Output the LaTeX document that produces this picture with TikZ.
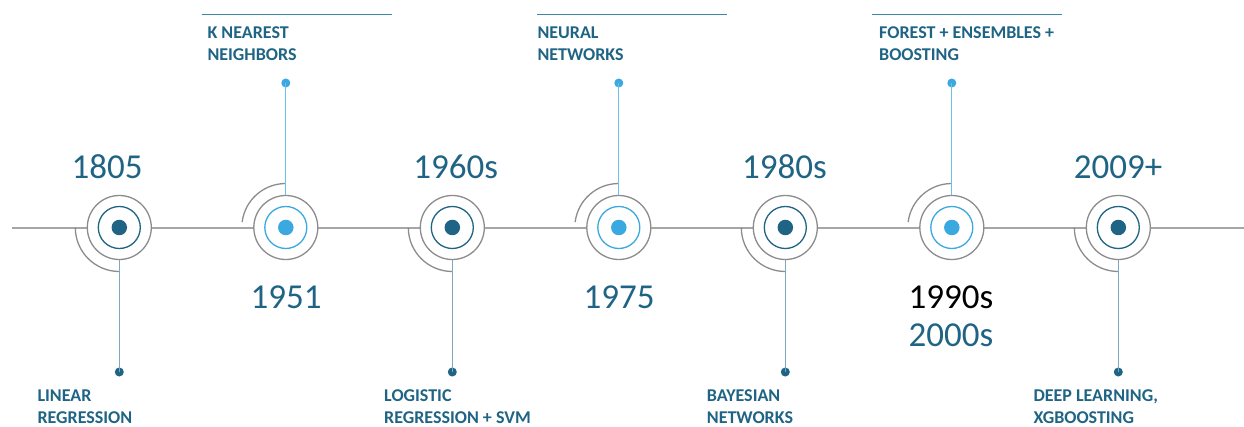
\documentclass[tikz,border=0pt]{standalone}
\usepackage{fontspec}
\setmainfont{Carlito}
\definecolor{tlDark}{HTML}{1F6484}
\definecolor{tlLight}{HTML}{3BA9DF}
\definecolor{tlLink}{HTML}{7FA8C0}
\definecolor{tlLinkLight}{HTML}{6CC0EA}
\definecolor{tlRing}{HTML}{8C8C8C}
\definecolor{tlAxis}{HTML}{A6A6A6}
\definecolor{tlRule}{HTML}{3D88AA}
\tikzset{
  axis/.style={draw=tlAxis, line width=2pt},
  swoosh/.style={draw=tlRing, line width=1.3pt},
  ring/.style={circle, draw=tlRing, line width=1.3pt, fill=white, minimum size=64pt, inner sep=0pt},
  innerring/.style={circle, draw=#1, line width=1.3pt, minimum size=42pt, inner sep=0pt},
  core/.style={circle, fill=#1, minimum size=15.5pt, inner sep=0pt},
  enddot/.style={circle, fill=#1, minimum size=9pt, inner sep=0pt},
  linkdown/.style={draw=tlLink, line width=1.1pt},
  linkup/.style={draw=tlLinkLight, line width=1.1pt},
  toprule/.style={draw=tlRule, line width=1pt},
  year/.style={font=\fontsize{35}{38.4}\selectfont, text=tlDark, anchor=base, inner sep=0pt},
  caption/.style={font=\bfseries\fontsize{18}{22}\selectfont, text=tlDark, align=left, anchor=north west, inner sep=0pt},
}
\begin{document}
\begin{tikzpicture}[x=1pt,y=1pt]
\useasboundingbox (0,-427) rectangle (1244,0);

% centres of the seven milestones
\coordinate (c1) at (119.3,-227.5);
\coordinate (c2) at (285.8,-227.5);
\coordinate (c3) at (452.3,-227.5);
\coordinate (c4) at (618.8,-227.5);
\coordinate (c5) at (785.3,-227.5);
\coordinate (c6) at (951.8,-227.5);
\coordinate (c7) at (1118.3,-227.5);

% time axis
\coordinate (axisL) at (12,-228);
\coordinate (axisR) at (1244,-228);
\draw[axis] (axisL) -- (axisR);

% quarter arcs around the rings
\draw[swoosh] ([shift={(180:44)}]c1) arc[start angle=180, end angle=270, radius=44];
\draw[swoosh] ([shift={(173:44)}]c2) arc[start angle=173, end angle=90, radius=44];
\draw[swoosh] ([shift={(180:44)}]c3) arc[start angle=180, end angle=270, radius=44];
\draw[swoosh] ([shift={(173:44)}]c4) arc[start angle=173, end angle=90, radius=44];
\draw[swoosh] ([shift={(180:44)}]c5) arc[start angle=180, end angle=270, radius=44];
\draw[swoosh] ([shift={(173:44)}]c6) arc[start angle=173, end angle=90, radius=44];
\draw[swoosh] ([shift={(180:44)}]c7) arc[start angle=180, end angle=270, radius=44];

% milestone rings
\node[ring] (m1) at (c1) {};
\node[ring] (m2) at (c2) {};
\node[ring] (m3) at (c3) {};
\node[ring] (m4) at (c4) {};
\node[ring] (m5) at (c5) {};
\node[ring] (m6) at (c6) {};
\node[ring] (m7) at (c7) {};
\node[innerring=tlDark]  (i1) at (c1) {};
\node[innerring=tlLight] (i2) at (c2) {};
\node[innerring=tlDark]  (i3) at (c3) {};
\node[innerring=tlLight] (i4) at (c4) {};
\node[innerring=tlDark]  (i5) at (c5) {};
\node[innerring=tlLight] (i6) at (c6) {};
\node[innerring=tlDark]  (i7) at (c7) {};
\node[core=tlDark]  (k1) at (c1) {};
\node[core=tlLight] (k2) at (c2) {};
\node[core=tlDark]  (k3) at (c3) {};
\node[core=tlLight] (k4) at (c4) {};
\node[core=tlDark]  (k5) at (c5) {};
\node[core=tlLight] (k6) at (c6) {};
\node[core=tlDark]  (k7) at (c7) {};

% end dots of the leader lines
\node[enddot=tlDark]  (d1) at (119.3,-372) {};
\node[enddot=tlLight] (d2) at (285.8,-83) {};
\node[enddot=tlDark]  (d3) at (452.3,-372) {};
\node[enddot=tlLight] (d4) at (618.8,-83) {};
\node[enddot=tlDark]  (d5) at (785.3,-372) {};
\node[enddot=tlLight] (d6) at (951.8,-83) {};
\node[enddot=tlDark]  (d7) at (1118.3,-372) {};

% leader lines
\draw[linkdown] (m1.south) -- (d1.center);
\draw[linkup]   (m2.north) -- (d2.center);
\draw[linkdown] (m3.south) -- (d3.center);
\draw[linkup]   (m4.north) -- (d4.center);
\draw[linkdown] (m5.south) -- (d5.center);
\draw[linkup]   (m6.north) -- (d6.center);
\draw[linkdown] (m7.south) -- (d7.center);

% years
\node[year] (y1) at (107,-178.3) {1805};
\node[year] (y2) at (286,-308.3) {1951};
\node[year] (y3) at (455.7,-178.3) {1960s};
\node[year] (y4) at (619,-308.3) {1975};
\node[year] (y5) at (784.5,-178.3) {1980s};
\node[year, text=black] (y6a) at (951,-308.3) {1990s};
\node[year] (y6b) at (951,-346.7) {2000s};
\node[year] (y7) at (1118,-178.3) {2009+};

% rules above the upper captions
\draw[toprule] (201.7,-14.7) -- (391.7,-14.7);
\draw[toprule] (537.3,-14.7) -- (727.3,-14.7);
\draw[toprule] (871.7,-14.7) -- (1061.7,-14.7);

% captions
\node[caption] (t2) at (207.3,-26.7) {K NEAREST\\NEIGHBORS};
\node[caption] (t4) at (537.3,-26.7) {NEURAL\\NETWORKS};
\node[caption] (t6) at (879,-26.7) {FOREST + ENSEMBLES +\\BOOSTING};
\node[caption] (t1) at (37.3,-389.3) {LINEAR\\REGRESSION};
\node[caption] (t3) at (384,-389.3) {LOGISTIC\\REGRESSION + SVM};
\node[caption] (t5) at (706.7,-389.3) {BAYESIAN\\NETWORKS};
\node[caption] (t7) at (1033.3,-389.3) {DEEP LEARNING,\\XGBOOSTING};
\end{tikzpicture}
\end{document}
